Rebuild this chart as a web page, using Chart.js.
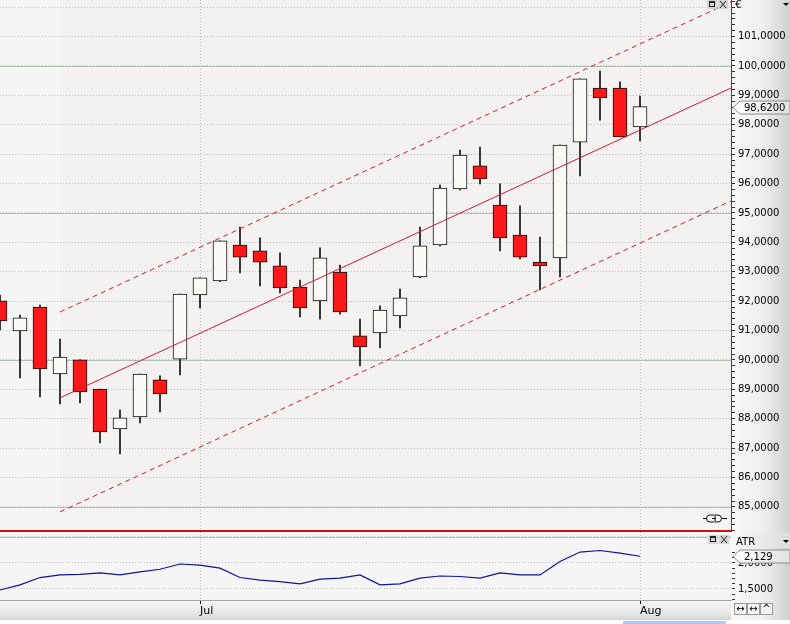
<!DOCTYPE html>
<html>
<head>
<meta charset="utf-8">
<title>Candles with regression channel and ATR</title>
<script src="https://cdn.jsdelivr.net/npm/chart.js@4.4.1/dist/chart.umd.min.js"></script>
<style>
  html, body { margin: 0; padding: 0; background: #fff; }
  #wrap { position: relative; width: 790px; height: 624px; overflow: hidden; background: #f5f5f5; }
  #axisBg { position: absolute; left: 731px; top: 0; width: 59px; height: 620px;
    background: linear-gradient(to right, #f8f8f8 0%, #efefef 55%, #d0d0d0 100%); }
  #timeBg { position: absolute; left: 0; top: 600px; width: 731px; height: 20px;
    background: linear-gradient(to bottom, #f7f7f7 0%, #e8e8e8 60%, #d6d6d6 100%); }
  #foot { position: absolute; left: 0; top: 620px; width: 790px; height: 4px; background: #fff; }
  #thumb { position: absolute; left: 623px; top: 621px; width: 103px; height: 3px; background: #a9cdf0; }
  canvas { position: absolute; left: 0; }
  #price { top: 0; }
  #atr { top: 532px; }
</style>
</head>
<body>
<div id="wrap">
  <div id="axisBg"></div>
  <div id="timeBg"></div>
  <div id="foot"></div><div id="thumb"></div>
  <canvas id="price" width="790" height="533"></canvas>
  <canvas id="atr" width="790" height="88"></canvas>
</div>
<script>
// trading days shown (MM-DD)
const dates = ['06-17', '06-18', '06-19', '06-20', '06-21', '06-24', '06-25', '06-26', '06-27', '06-28',
  '07-01', '07-02', '07-03', '07-05', '07-08', '07-09', '07-10', '07-11', '07-12', '07-15', '07-16',
  '07-17', '07-18', '07-19', '07-22', '07-23', '07-24', '07-25', '07-26', '07-29', '07-30', '07-31',
  '08-01'];
const monthNames = { '06': 'Jun', '07': 'Jul', '08': 'Aug' };

const open = [92.01, 90.99, 91.80, 89.52, 90.00, 89.01, 87.65, 88.06, 89.32, 90.03,
  92.21, 92.69, 93.91, 93.71, 93.20, 92.48, 92.01, 92.99, 90.82, 90.92, 91.50,
  92.82, 93.91, 95.82, 96.60, 95.27, 94.25, 93.33, 93.47, 97.41, 99.25, 99.25, 97.93];
const high = [92.21, 91.53, 91.87, 90.71, 90.00, 89.01, 88.30, 89.52, 89.46, 92.24,
  92.79, 94.05, 94.52, 94.15, 93.64, 92.72, 93.81, 93.23, 91.39, 91.84, 92.41,
  94.52, 95.95, 97.14, 97.24, 95.99, 95.24, 94.18, 97.31, 99.56, 99.83, 99.46, 98.98];
const low = [91.02, 89.39, 88.74, 88.50, 88.54, 87.18, 86.80, 87.86, 88.23, 89.49,
  91.77, 92.66, 92.96, 92.52, 92.28, 91.46, 91.39, 91.56, 89.80, 90.41, 91.09,
  92.80, 93.88, 95.78, 95.99, 93.71, 93.44, 92.38, 92.82, 96.26, 98.16, 97.59, 97.45];
const close = [91.33, 91.43, 89.69, 90.10, 88.91, 87.55, 88.03, 89.52, 88.84, 92.24,
  92.79, 94.05, 93.50, 93.33, 92.45, 91.77, 93.47, 91.63, 90.44, 91.70, 92.11,
  93.88, 95.85, 96.97, 96.16, 94.15, 93.50, 93.20, 97.31, 99.56, 98.91, 97.59, 98.62];

const atr = [1.48, 1.58, 1.72, 1.77, 1.78, 1.81, 1.77, 1.83, 1.88, 1.98, 1.96,
  1.90, 1.72, 1.67, 1.64, 1.60, 1.69, 1.71, 1.77, 1.58, 1.60, 1.71,
  1.75, 1.74, 1.71, 1.81, 1.77, 1.77, 2.03, 2.21, 2.24, 2.19, 2.129];

// regression channel: start bar and projected end, mid / upper / lower
const channelX = [3, 36.55];
const channelMid = [88.71, 99.25];
const channelUpper = [91.63, 102.18];
const channelLower = [84.83, 95.41];

// axis ranges and grid levels
const xRange = [0, 36.55];
const priceRange = [84.18, 102.245];
const priceMajor = [85, 90, 95, 100];
const atrRange = [1.288, 2.596];
const atrMajor = [2.5];

const UP = '#fcfaf6';
const DOWN = '#fa1818';
const CHANNEL = '#d01a3a';
const FONT = '"DejaVu Sans", sans-serif';

Chart.defaults.font.family = FONT;
Chart.defaults.font.size = 10;
Chart.defaults.color = '#000';

const fmt = (v, d) => v.toFixed(d).replace('.', ',');
const onStep = (v, s) => Math.abs(v / s - Math.round(v / s)) < 1e-6;

// month starts, for the time axis
const monthStarts = dates.map((d, i) => i).filter(i => i > 0 && dates[i].slice(0, 2) !== dates[i - 1].slice(0, 2));

function stepTicks(scale, step) {
    const ticks = [];
    for (let k = Math.ceil(scale.min / step - 1e-9); k * step <= scale.max + 1e-9; k++) {
        ticks.push({ value: +(k * step).toFixed(6) });
    }
    scale.ticks = ticks;
}

function monthTicks(scale) {
    scale.ticks = monthStarts.map(v => ({ value: v }));
}

// keep the plot flush with the canvas edges
function noPadding(s) {
    s.paddingTop = 0;
    s.paddingBottom = 0;
    s.paddingLeft = 0;
    s.paddingRight = 0;
}

function drawMarker(ctx, x, y, text) {
    const h = 13;
    ctx.save();
    ctx.beginPath();
    ctx.moveTo(x, y);
    ctx.lineTo(x + 7, y - h / 2);
    ctx.lineTo(790, y - h / 2);
    ctx.lineTo(790, y + h / 2);
    ctx.lineTo(x + 7, y + h / 2);
    ctx.closePath();
    const g = ctx.createLinearGradient(x, 0, 790, 0);
    g.addColorStop(0, '#ffffff');
    g.addColorStop(1, '#e2e2e2');
    ctx.fillStyle = g;
    ctx.fill();
    ctx.strokeStyle = '#8c8c8c';
    ctx.lineWidth = 1;
    ctx.stroke();
    ctx.fillStyle = '#000';
    ctx.font = '10px ' + FONT;
    ctx.textAlign = 'left';
    ctx.textBaseline = 'middle';
    ctx.fillText(text, x + 11, y + 0.5);
    ctx.restore();
}

function drawButtons(ctx, x, y) {
    ctx.save();
    ctx.fillStyle = '#d4d4d4';
    ctx.fillRect(x, y, 10, 9);
    ctx.fillRect(x + 11, y, 10, 9);
    ctx.strokeStyle = '#222';
    ctx.lineWidth = 1;
    ctx.strokeRect(x + 2.5, y + 1.5, 5, 5);
    ctx.beginPath();
    ctx.moveTo(x + 2.5, y + 2.5);
    ctx.lineTo(x + 7.5, y + 2.5);
    ctx.moveTo(x + 13, y + 1);
    ctx.lineTo(x + 19, y + 8);
    ctx.moveTo(x + 19, y + 1);
    ctx.lineTo(x + 13, y + 8);
    ctx.stroke();
    ctx.restore();
}

function drawDropdown(ctx, x, y) {
    ctx.save();
    ctx.fillStyle = '#000';
    ctx.beginPath();
    ctx.moveTo(x, y);
    ctx.lineTo(x + 6, y);
    ctx.lineTo(x + 3, y + 3);
    ctx.closePath();
    ctx.fill();
    ctx.restore();
}

function drawLevels(chart, levels) {
    const { ctx, chartArea: a, scales: { y } } = chart;
    ctx.save();
    ctx.strokeStyle = '#aec2ae';
    ctx.lineWidth = 1;
    levels.forEach(v => {
        const py = Math.round(y.getPixelForValue(v)) + 0.5;
        ctx.beginPath();
        ctx.moveTo(a.left, py);
        ctx.lineTo(a.right, py);
        ctx.stroke();
    });
    ctx.restore();
}

// channel shading, solid 5-unit lines and the panel furniture
const pricePanel = {
    id: 'pricePanel',
    beforeDraw(chart) {
        const { ctx, chartArea: a, scales: { x, y } } = chart;
        const x0 = x.getPixelForValue(channelX[0]);
        const y1 = y.getPixelForValue(channelLower[0]);
        ctx.save();
        ctx.fillStyle = '#f3f2f0';
        ctx.fillRect(x0, a.top, a.right - x0, y1 - a.top);
        ctx.restore();
    },
    beforeDatasetsDraw(chart) {
        drawLevels(chart, priceMajor);
    },
    afterDraw(chart) {
        const { ctx, chartArea: a, scales: { y } } = chart;
        // chain icon
        ctx.save();
        ctx.strokeStyle = '#111';
        ctx.lineWidth = 1;
        const iy = a.bottom - 12.5;
        ctx.beginPath();
        ctx.moveTo(703, iy); ctx.lineTo(707, iy);
        ctx.moveTo(722, iy); ctx.lineTo(727, iy);
        ctx.stroke();
        ctx.beginPath();
        ctx.moveTo(714, iy - 3.5); ctx.lineTo(710, iy - 3.5);
        ctx.arc(710, iy, 3.5, -Math.PI / 2, Math.PI / 2, true);
        ctx.lineTo(714, iy + 3.5);
        ctx.moveTo(712, iy); ctx.lineTo(716, iy);
        ctx.moveTo(715, iy - 3.5); ctx.lineTo(718, iy - 3.5);
        ctx.arc(718, iy, 3.5, -Math.PI / 2, Math.PI / 2);
        ctx.lineTo(715, iy + 3.5);
        ctx.closePath();
        ctx.stroke();
        ctx.restore();

        drawButtons(ctx, 707, 0);
        ctx.save();
        ctx.font = '11px ' + FONT;
        ctx.fillStyle = '#000';
        ctx.textBaseline = 'top';
        ctx.fillText('€', 735, 0);
        ctx.restore();
        drawDropdown(ctx, 783, 3);

        const last = close[close.length - 1];
        drawMarker(ctx, 733, Math.round(y.getPixelForValue(last)) + 0.5, fmt(last, 4));
    }
};

const atrPanel = {
    id: 'atrPanel',
    beforeDatasetsDraw(chart) {
        drawLevels(chart, atrMajor);
    },
    afterDraw(chart) {
        const { ctx, scales: { y } } = chart;
        ctx.save();
        const g = ctx.createLinearGradient(731, 0, 790, 0);
        g.addColorStop(0, '#fafafa');
        g.addColorStop(1, '#dcdcdc');
        ctx.fillStyle = g;
        ctx.fillRect(732, 1, 58, 15);
        ctx.font = '10px ' + FONT;
        ctx.fillStyle = '#000';
        ctx.textBaseline = 'middle';
        ctx.fillText('ATR', 736, 10);
        ctx.restore();
        drawDropdown(ctx, 783, 8);
        drawButtons(ctx, 708, 3);

        const last = atr[atr.length - 1];
        drawMarker(ctx, 733, Math.round(y.getPixelForValue(last)) + 0.5, fmt(last, 3));

        // zoom / scroll buttons under the value axis
        ctx.save();
        ctx.strokeStyle = '#9a9a9a';
        ctx.fillStyle = '#f4f4f4';
        ['↔', '↔', '^'].forEach((s, i) => {
            const bx = 734.5 + i * 13;
            ctx.fillRect(bx, 71.5, 12, 11);
            ctx.strokeRect(bx, 71.5, 12, 11);
            ctx.fillStyle = '#000';
            ctx.font = '10px ' + FONT;
            ctx.textAlign = 'center';
            ctx.textBaseline = 'middle';
            ctx.fillText(s, bx + 6, 77);
            ctx.fillStyle = '#f4f4f4';
        });
        ctx.restore();
    }
};

function valueAxis(range, step, labelStep, maxLabel, decimals, borderColor) {
    return {
        position: 'right',
        min: range[0],
        max: range[1],
        afterFit: s => { s.width = 59; noPadding(s); },
        afterBuildTicks: s => stepTicks(s, step),
        grid: {
            color: c => onStep(c.tick.value, labelStep) ? '#bdbdbd' : 'rgba(0,0,0,0)',
            tickColor: '#333',
            tickLength: 4,
            lineWidth: 1
        },
        border: { color: borderColor, width: 1, dash: [1, 2] },
        ticks: {
            autoSkip: false,
            padding: 3,
            callback: v => (onStep(v, labelStep) && v <= maxLabel) ? fmt(v, decimals) : ''
        }
    };
}

const candleBodies = close.map((c, i) => ({ x: i, y: [open[i], c] }));
const candleWicks = high.map((h, i) => ({ x: i, y: [low[i], h] }));
const line = (ys) => channelX.map((x, i) => ({ x, y: ys[i] }));

new Chart(document.getElementById('price'), {
    type: 'bar',
    data: {
        datasets: [
            { type: 'line', data: line(channelMid), borderColor: CHANNEL, borderWidth: 1, pointRadius: 0, order: 0 },
            { type: 'line', data: line(channelUpper), borderColor: CHANNEL, borderWidth: 1, borderDash: [5, 4], pointRadius: 0, order: 0 },
            { type: 'line', data: line(channelLower), borderColor: CHANNEL, borderWidth: 1, borderDash: [5, 4], pointRadius: 0, order: 0 },
            {
                data: candleBodies,
                backgroundColor: close.map((c, i) => c >= open[i] ? UP : DOWN),
                borderColor: '#111',
                borderWidth: 1,
                borderSkipped: false,
                barThickness: 14,
                grouped: false,
                order: 1
            },
            {
                data: candleWicks,
                backgroundColor: '#111',
                borderWidth: 0,
                barThickness: 1,
                grouped: false,
                order: 2
            }
        ]
    },
    options: {
        responsive: false,
        animation: false,
        events: [],
        layout: { padding: 0 },
        plugins: { legend: { display: false }, tooltip: { enabled: false } },
        scales: {
            x: {
                type: 'linear',
                min: xRange[0],
                max: xRange[1],
                offset: false,
                afterBuildTicks: monthTicks,
                afterFit: s => { s.height = 2; noPadding(s); },
                grid: { offset: false, color: '#bdbdbd', drawTicks: false },
                border: { color: '#cc1010', width: 2, dash: [1, 2] },
                ticks: { display: false }
            },
            y: valueAxis(priceRange, 0.2, 1, 101, 4, '#cc1010')
        }
    },
    plugins: [pricePanel]
});

new Chart(document.getElementById('atr'), {
    type: 'line',
    data: {
        datasets: [{
            data: atr.map((v, i) => ({ x: i, y: v })),
            borderColor: '#12129a',
            borderWidth: 1.2,
            pointRadius: 0,
            tension: 0
        }]
    },
    options: {
        responsive: false,
        animation: false,
        events: [],
        layout: { padding: 0 },
        plugins: { legend: { display: false }, tooltip: { enabled: false } },
        scales: {
            x: {
                type: 'linear',
                min: xRange[0],
                max: xRange[1],
                afterBuildTicks: monthTicks,
                afterFit: s => { s.height = 20; noPadding(s); },
                grid: { color: '#bdbdbd', tickColor: '#111', tickLength: 4 },
                border: { color: '#a4a4a4', width: 1, dash: [1, 2] },
                ticks: {
                    align: 'start',
                    padding: 1,
                    font: { size: 11 },
                    callback: v => monthNames[dates[v].slice(0, 2)]
                }
            },
            y: valueAxis(atrRange, 0.1, 0.5, 2.0, 4, 'rgba(0,0,0,0)')
        }
    },
    plugins: [atrPanel]
});
</script>
</body>
</html>
